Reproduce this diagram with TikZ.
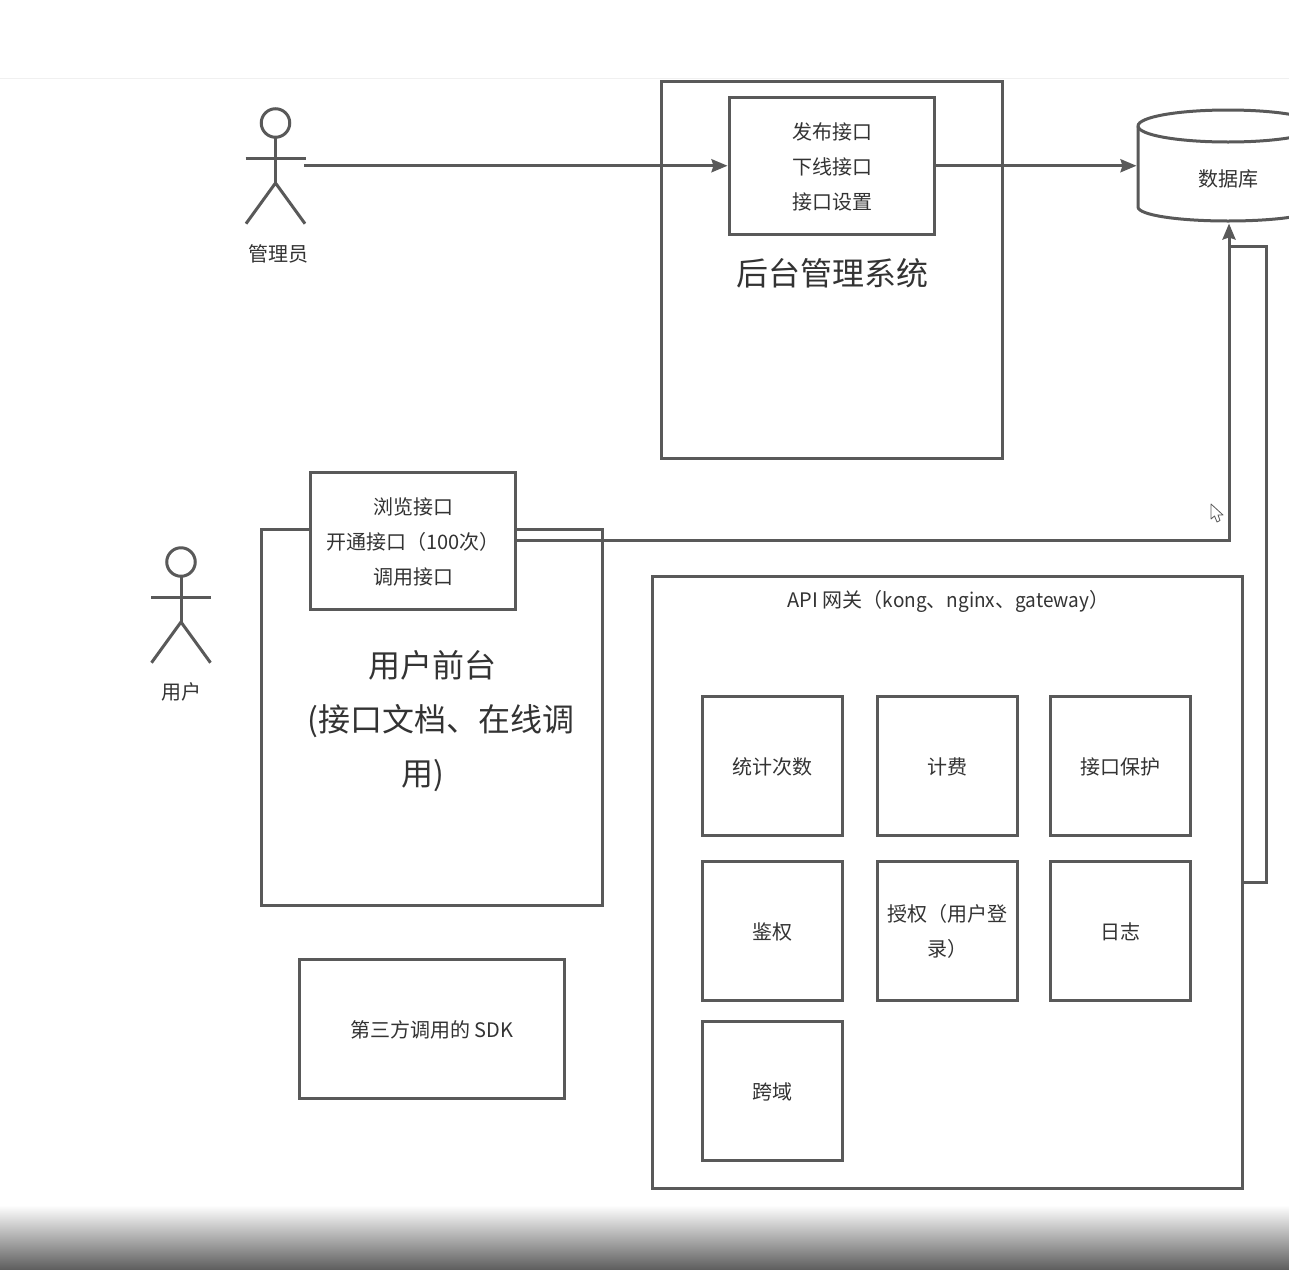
\documentclass[tikz,border=0pt]{standalone}
\usepackage{fontspec}
\setmainfont{Noto Sans CJK SC}
\newfontfamily\narrowlatin[FakeStretch=0.95]{Noto Sans CJK SC}
\usetikzlibrary{arrows.meta}
\definecolor{ln}{HTML}{595959}
\definecolor{tx}{HTML}{333333}
\definecolor{fade}{HTML}{5F5F5F}
\tikzset{
  every node/.style={text=tx,font=\fontsize{20}{35}\selectfont,align=center,inner sep=0pt,outer sep=0pt},
  every label/.style={yshift=-1pt,xshift=.5pt},
  boxn/.style={draw=ln,line width=3pt,fill=white,outer sep=1.5pt},
  small/.style={boxn,minimum width=140pt,minimum height=139.5pt},
  big/.style={font=\fontsize{32}{55}\selectfont},
  conn/.style={draw=ln,line width=3pt},
  arrow/.style={conn,-{Stealth[length=16pt,width=13pt,inset=2pt]}},
  limb/.style={draw=ln,line width=3pt}
}
\newcommand{\stick}[3]{%
  \node[draw=ln,line width=3pt,circle,minimum size=28.5pt] (#1head) at (#2,#3) {};
  \coordinate (#1hip) at (#2,#3+60);
  \draw[limb] (#1head.south) -- (#1hip);
  \draw[limb] (#2-30,#3+35) -- (#2+30,#3+35);
  \draw[limb] (#2-29.5,#3+100.7) -- (#1hip) -- (#2+29.5,#3+100.7);
}
\begin{document}
\begin{tikzpicture}[x=1pt,y=-1pt]
\useasboundingbox (0,0) rectangle (1289,1269);
\fill[white] (0,0) rectangle (1289,1269);
\draw[color=black!6,line width=1pt] (0,78) -- (1289,78);
\shade[top color=white,bottom color=fade] (0,1205) rectangle (1289,1269);

% actors
\stick{adm}{275.5}{123}
\node (admlabel) at (278,253.5) {管理员};
\coordinate (admarm) at (304,166);
\stick{usr}{181}{562}
\node (usrlabel) at (181,692) {用户};

% backend
\node[boxn,minimum width=341pt,minimum height=377.5pt] (back) at (831.5,269.75) {};
\node[boxn,minimum width=205pt,minimum height=137.5pt,label={center:{发布接口\\下线接口\\接口设置}}] (backin) at (831.5,165.75) {};
\node[big] (backtitle) at (832,273) {后台管理系统};

% database
\begin{scope}
\clip (1100,90) rectangle (1289,240);
\draw[conn,fill=white] (1138,126) .. controls (1138,117) and (1178,110) .. (1228,110)
  .. controls (1278,110) and (1318,117) .. (1318,126)
  -- (1318,207) .. controls (1318,215) and (1278,221) .. (1228,221)
  .. controls (1178,221) and (1138,215) .. (1138,207) -- cycle;
\draw[conn] (1138,126) .. controls (1138,135) and (1178,142) .. (1228,142)
  .. controls (1278,142) and (1318,135) .. (1318,126);
\end{scope}
\node (dbtext) at (1228.5,179) {数据库};
\coordinate (dbleft) at (1136.5,166);
\coordinate (dbbottom) at (1229,223.5);
\coordinate (dbjoin) at (1229,246);

% front end
\node[boxn,minimum width=341pt,minimum height=376.5pt] (front) at (431.5,717.25) {};
\node[boxn,minimum width=205pt,minimum height=137.5pt,label={center:{浏览接口\\开通接口（100次）\\调用接口}}] (frontin) at (412.5,540.75) {};
\node[big] (ft1) at (432,665) {用户前台};
\node[big] (ft2) at (441,721) {(接口文档、在线调};
\node[big] (ft3) at (423,776) {用)};

% sdk
\node[boxn,minimum width=265pt,minimum height=139.5pt,label={center:第三方调用的 SDK}] (sdk) at (431.5,1028.75) {};

% gateway
\node[boxn,minimum width=590pt,minimum height=612.5pt] (api) at (947,882.25) {};
\node (apititle) at (948.5,601) {API 网关（{\narrowlatin kong}、{\narrowlatin nginx}、{\narrowlatin gateway}）};
\node[small,label={center:统计次数}] (s1) at (772,765.75) {};
\node[small,label={center:计费}] (s2) at (947,765.75) {};
\node[small,label={center:接口保护}] (s3) at (1120,765.75) {};
\node[small,label={center:鉴权}] (s4) at (772,930.75) {};
\node[small,label={center:{授权（用户登\\录）}}] (s5) at (947,930.75) {};
\node[small,label={center:日志}] (s6) at (1120,930.75) {};
\node[small,label={center:跨域}] (s7) at (772,1090.75) {};

% connectors
\draw[arrow] (admarm |- backin.west) -- (backin.west);
\draw[arrow] (backin.east) -- (dbleft |- backin.east);
\draw[arrow] (frontin.east) -| (dbbottom);
\draw[conn] (api.east) -- ++(23,0) |- (dbjoin);

% mouse pointer
\draw[draw=ln,line width=.8pt,fill=white,line join=round] (1211,504) -- (1211,519) -- (1214.5,516) -- (1217,522) -- (1220,520.5) -- (1218,515) -- (1223,515) -- cycle;
\end{tikzpicture}
\end{document}
